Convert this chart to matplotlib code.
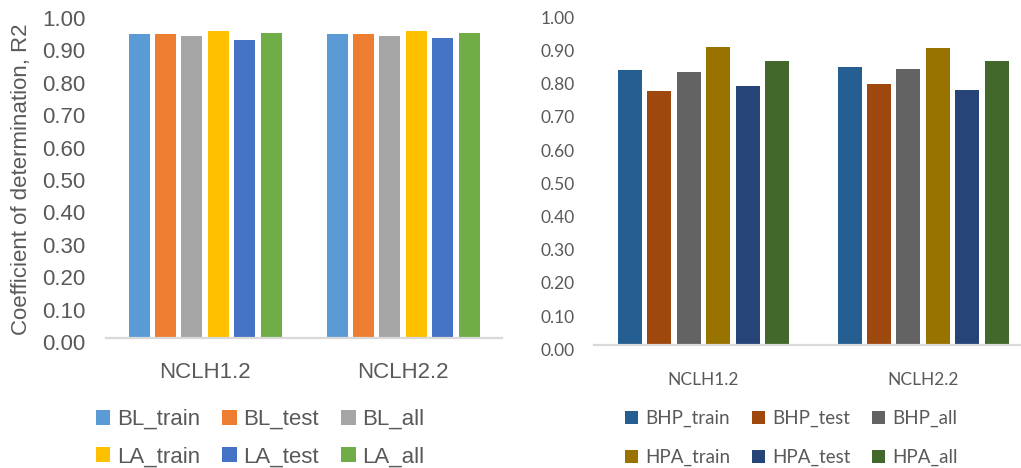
import matplotlib.pyplot as plt
import matplotlib.transforms as mtransforms
import numpy as np

W, H = 1021, 468

categories = ['NCLH1.2', 'NCLH2.2']

# left chart (BL / LA)
left_names = ['BL_train', 'BL_test', 'BL_all', 'LA_train', 'LA_test', 'LA_all']
left_vals = [
    [0.938, 0.938],   # BL_train
    [0.938, 0.938],   # BL_test
    [0.932, 0.932],   # BL_all
    [0.948, 0.948],   # LA_train
    [0.920, 0.926],   # LA_test
    [0.941, 0.941],   # LA_all
]
left_colors = ['#5B9BD5', '#ED7D31', '#A5A5A5', '#FFC000', '#4472C4', '#70AD47']

# right chart (BHP / HPA)
right_names = ['BHP_train', 'BHP_test', 'BHP_all', 'HPA_train', 'HPA_test', 'HPA_all']
right_vals = [
    [0.829, 0.838],   # BHP_train
    [0.766, 0.787],   # BHP_test
    [0.823, 0.832],   # BHP_all
    [0.898, 0.895],   # HPA_train
    [0.781, 0.769],   # HPA_test
    [0.856, 0.856],   # HPA_all
]
right_colors = ['#255E91', '#9E480E', '#636363', '#997300', '#264478', '#43682B']

yticks = np.arange(0, 1.01, 0.1)
txt = '#595959'


def px_axes(x0, x1, ybase, ytop):
    # pixel box -> figure fraction axes
    return fig.add_axes([x0 / W, 1 - ybase / H, (x1 - x0) / W, (ybase - ytop) / H])


def draw(ax, vals, names, colors, step, width, font, fsize, tickpad, catpad):
    x = np.arange(len(categories))
    n = len(vals)
    bars = []
    for i in range(n):
        off = (i - (n - 1) / 2) * step
        b = ax.bar(x + off, vals[i], width, color=colors[i], label=names[i], zorder=2)
        bars.append(b)
    ax.set_xlim(-0.5, 1.5)
    ax.set_ylim(0, 1)
    ax.set_yticks(yticks)
    ax.set_yticklabels(['%.2f' % v for v in yticks], family=font, fontsize=fsize, color=txt)
    ax.set_xticks(x)
    ax.set_xticklabels(categories, family=font, fontsize=fsize, color=txt)
    ax.tick_params(axis='y', length=0, pad=tickpad)
    ax.tick_params(axis='x', length=0, pad=catpad)
    # excel draws the value labels a few pixels low
    shift = mtransforms.ScaledTranslation(0, -4 / 100, fig.dpi_scale_trans)
    for lab in ax.get_yticklabels():
        lab.set_transform(lab.get_transform() + shift)
    for s in ['top', 'right', 'left']:
        ax.spines[s].set_visible(False)
    ax.spines['bottom'].set_color('#D9D9D9')
    ax.spines['bottom'].set_linewidth(1.6)
    return bars


fig = plt.figure(figsize=(W / 100, H / 100), dpi=100)

# left panel
axl = px_axes(106, 502, 338, 14)
bl = draw(axl, left_vals, left_names, left_colors, 26.4 / 198, 21 / 198,
          'Liberation Sans', 16, 15, 17)
fig.text(22 / W, 1 - 179 / H, 'Coefficient of determination, R2', rotation=90,
         ha='center', va='center', family='Liberation Sans', fontsize=16, color=txt)

# right panel
axr = px_axes(593.75, 1032.75, 345.3, 13.3)
br = draw(axr, right_vals, right_names, right_colors, 29.4 / 219.5, 24 / 219.5,
          'Lato', 12.5, 14, 19)

# legends: 3 columns, filled column-wise, so interleave rows
order = [0, 3, 1, 4, 2, 5]
fig.legend([bl[i] for i in order], [left_names[i] for i in order], ncol=3,
           loc='upper left', bbox_to_anchor=(96 / W, 1 - 409 / H), frameon=False,
           borderpad=0, borderaxespad=0, handlelength=0.65, handleheight=0.65,
           handletextpad=0.3, columnspacing=1.0, labelspacing=0.73,
           prop={'family': 'Liberation Sans', 'size': 16}, labelcolor=txt)
fig.legend([br[i] for i in order], [right_names[i] for i in order], ncol=3,
           loc='upper left', bbox_to_anchor=(625 / W, 1 - 410 / H), frameon=False,
           borderpad=0, borderaxespad=0, handlelength=0.7, handleheight=0.7,
           handletextpad=0.37, columnspacing=1.15, labelspacing=1.15,
           prop={'family': 'Lato', 'size': 13.5}, labelcolor=txt)

fig.savefig('out.png', dpi=100)
